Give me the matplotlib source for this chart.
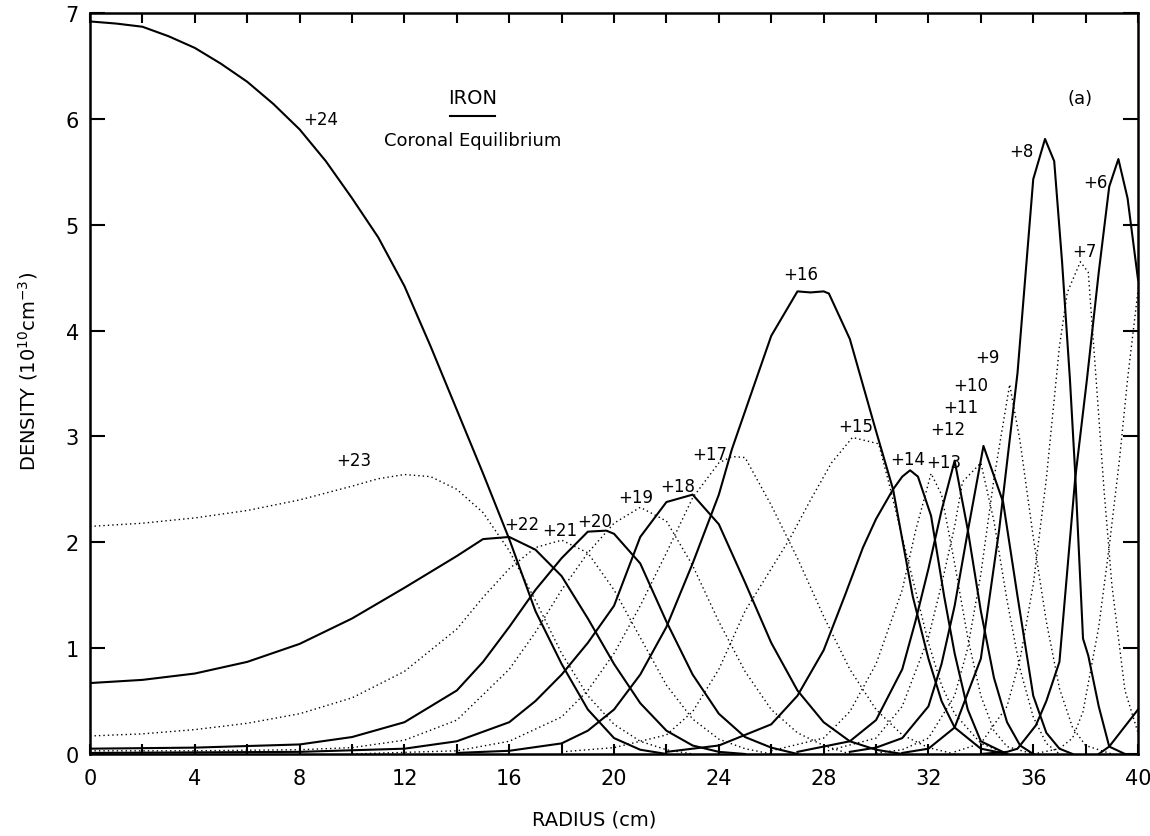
import matplotlib.pyplot as plt
from matplotlib.ticker import MultipleLocator

# density profiles of the iron charge states, radius in cm, density in 1e10 cm^-3
r24 = [0, 1, 2, 3, 4, 5, 6, 7, 8, 9, 10, 11, 12, 13, 14, 15, 16, 17, 18, 19, 20, 21, 22]
n24 = [6.92, 6.90, 6.87, 6.78, 6.67, 6.52, 6.35, 6.14, 5.90, 5.60, 5.25, 4.88, 4.42, 3.85,
       3.25, 2.65, 2.03, 1.35, 0.85, 0.42, 0.15, 0.04, 0.0]

r23 = [0, 2, 4, 6, 8, 10, 11, 12, 13, 14, 15, 16, 17, 18, 19, 20, 21, 22, 23]
n23 = [2.15, 2.18, 2.23, 2.30, 2.40, 2.53, 2.60, 2.64, 2.62, 2.50, 2.28, 1.92, 1.45, 0.95, 0.55, 0.28, 0.12, 0.04, 0.0]

r22 = [0, 2, 4, 6, 8, 10, 12, 13, 14, 15, 16, 17, 18, 19, 20, 21, 22, 23, 24, 25]
n22 = [0.67, 0.70, 0.76, 0.87, 1.04, 1.28, 1.57, 1.72, 1.87, 2.03, 2.05, 1.93, 1.68, 1.28, 0.85, 0.48, 0.22, 0.08, 0.02, 0.0]

r21 = [0, 2, 4, 6, 8, 10, 12, 14, 15, 16, 17, 18, 19, 20, 21, 22, 23, 24, 25, 26]
n21 = [0.17, 0.19, 0.23, 0.29, 0.38, 0.53, 0.78, 1.18, 1.48, 1.75, 1.95, 2.02, 1.90, 1.55, 1.10, 0.65, 0.33, 0.14, 0.05, 0.0]

r20 = [0, 4, 8, 10, 12, 14, 15, 16, 17, 18, 19, 19.7, 20, 21, 22, 23, 24, 25, 26, 27]
n20 = [0.05, 0.06, 0.09, 0.16, 0.30, 0.60, 0.87, 1.20, 1.55, 1.85, 2.10, 2.11, 2.08, 1.80, 1.25, 0.75, 0.38, 0.16, 0.06, 0.0]

r19 = [0, 4, 8, 10, 12, 14, 16, 17, 18, 19, 20, 21, 22, 23, 24, 25, 26, 27, 28, 29]
n19 = [0.03, 0.03, 0.04, 0.06, 0.13, 0.32, 0.80, 1.15, 1.55, 1.90, 2.18, 2.33, 2.20, 1.78, 1.25, 0.78, 0.42, 0.20, 0.08, 0.0]

r18 = [0, 8, 12, 14, 16, 17, 18, 19, 20, 21, 22, 23, 24, 25, 26, 27, 28, 29, 30, 31]
n18 = [0.01, 0.02, 0.05, 0.12, 0.30, 0.50, 0.75, 1.05, 1.40, 2.05, 2.38, 2.45, 2.17, 1.62, 1.05, 0.60, 0.30, 0.12, 0.04, 0.0]

r17 = [10, 14, 16, 18, 19, 20, 21, 22, 23, 24, 24.5, 25, 26, 27, 28, 29, 30, 31, 32, 33]
n17 = [0.0, 0.03, 0.12, 0.35, 0.60, 0.95, 1.40, 1.90, 2.42, 2.75, 2.81, 2.80, 2.35, 1.85, 1.30, 0.80, 0.42, 0.18, 0.06, 0.0]

r16 = [14, 16, 18, 19, 20, 21, 22, 23, 24, 24.5, 25.2, 26, 27, 27.5, 28, 28.2, 29, 30, 30.65, 31.4, 32, 32.5, 33, 34, 35]
n16 = [0.01, 0.03, 0.10, 0.22, 0.42, 0.75, 1.20, 1.80, 2.45, 2.88, 3.38, 3.95, 4.37, 4.36, 4.37, 4.35, 3.92, 3.05, 2.50, 1.49, 0.90, 0.50, 0.25, 0.05, 0.0]

r15 = [18, 20, 22, 23, 24, 25, 26, 26.7, 27.5, 28.3, 29.1, 30.1, 30.5, 31, 31.5, 32, 32.5, 33, 34, 35]
n15 = [0.02, 0.06, 0.18, 0.40, 0.80, 1.35, 1.75, 2.03, 2.40, 2.75, 2.99, 2.93, 2.55, 2.05, 1.55, 1.05, 0.65, 0.38, 0.10, 0.0]

r14 = [22, 24, 26, 27, 28, 28.8, 29.5, 30, 30.65, 31, 31.3, 31.6, 32.1, 32.6, 33, 33.5, 34, 35]
n14 = [0.02, 0.08, 0.28, 0.55, 0.98, 1.49, 1.95, 2.22, 2.50, 2.62, 2.68, 2.62, 2.25, 1.49, 0.95, 0.42, 0.12, 0.0]

r13 = [26, 28, 29, 30, 31, 31.5, 32.1, 32.5, 33, 33.5, 34, 34.5, 35, 36]
n13 = [0.03, 0.15, 0.40, 0.85, 1.55, 2.10, 2.65, 2.45, 1.80, 1.10, 0.55, 0.22, 0.07, 0.0]

r12 = [27, 29, 30, 31, 31.5, 32, 32.5, 33, 33.5, 34, 34.5, 35, 35.5, 36]
n12 = [0.02, 0.12, 0.32, 0.80, 1.25, 1.75, 2.30, 2.77, 2.12, 1.35, 0.72, 0.30, 0.08, 0.0]

r11 = [28, 30, 31, 32, 32.5, 33, 33.3, 34, 34.5, 35, 35.5, 36, 36.5, 37]
n11 = [0.02, 0.15, 0.45, 1.10, 1.60, 2.15, 2.57, 2.75, 2.20, 1.45, 0.80, 0.35, 0.10, 0.0]

r10 = [29, 30, 31, 32, 32.5, 33, 33.5, 34.1, 34.85, 35.4, 36, 36.5, 37, 37.5]
n10 = [0.02, 0.06, 0.15, 0.45, 0.85, 1.40, 2.10, 2.91, 2.38, 1.49, 0.55, 0.20, 0.05, 0.0]

r9 = [30, 31, 32, 33, 33.5, 34, 34.5, 35.1, 35.5, 36, 36.5, 37, 37.5, 38, 39]
n9 = [0.01, 0.04, 0.15, 0.55, 1.00, 1.70, 2.60, 3.49, 2.95, 2.05, 1.25, 0.62, 0.25, 0.08, 0.0]

r8 = [31, 32, 33, 34, 34.7, 35.4, 36.0, 36.45, 36.8, 37.1, 37.4, 37.6, 37.9, 38.1, 38.5, 38.9, 39.5]
n8 = [0.01, 0.05, 0.25, 0.90, 2.12, 3.60, 5.43, 5.81, 5.60, 4.65, 3.54, 2.66, 1.09, 0.93, 0.45, 0.07, 0.0]

r7 = [33, 34, 35, 35.5, 36, 36.5, 37.0, 37.3, 37.8, 38.1, 38.4, 38.7, 39, 39.5, 40]
n7 = [0.02, 0.10, 0.45, 0.90, 1.60, 2.60, 3.85, 4.36, 4.65, 4.55, 3.54, 2.50, 1.60, 0.60, 0.20]

r6 = [34, 35, 35.4, 36.1, 36.5, 37.0, 37.6, 38.05, 38.5, 38.9, 39.25, 39.6, 40]
n6 = [0.0, 0.02, 0.05, 0.27, 0.50, 0.87, 2.60, 3.54, 4.55, 5.36, 5.62, 5.25, 4.48]

r5 = [36, 37, 37.5, 37.9, 38.5, 38.9, 39.3, 39.6, 40]
n5 = [0.0, 0.05, 0.15, 0.40, 1.20, 1.96, 2.80, 3.54, 4.38]

r4 = [38.5, 38.9, 40]
n4 = [0.0, 0.07, 0.42]

# charge state label text and where the "+" sits
label_text = ['+24', '+23', '+22', '+21', '+20', '+19', '+18', '+17', '+16', '+15',
              '+14', '+13', '+12', '+11', '+10', '+9', '+8', '+7', '+6']
label_x = [8.15, 9.4, 15.8, 17.25, 18.6, 20.15, 21.75, 23.0, 26.45, 28.55,
           30.55, 31.9, 32.05, 32.55, 32.95, 33.8, 35.1, 37.5, 37.9]
label_y = [6.0, 2.78, 2.17, 2.12, 2.2, 2.43, 2.53, 2.83, 4.53, 3.1,
           2.79, 2.76, 3.07, 3.28, 3.49, 3.75, 5.7, 4.75, 5.4]

curves = [(24, r24, n24), (23, r23, n23), (22, r22, n22), (21, r21, n21),
          (20, r20, n20), (19, r19, n19), (18, r18, n18), (17, r17, n17),
          (16, r16, n16), (15, r15, n15), (14, r14, n14), (13, r13, n13),
          (12, r12, n12), (11, r11, n11), (10, r10, n10), (9, r9, n9),
          (8, r8, n8), (7, r7, n7), (6, r6, n6), (5, r5, n5), (4, r4, n4)]

plt.rcParams['font.family'] = 'DejaVu Sans'
fig = plt.figure(figsize=(11.5, 8.37), dpi=100)
ax = fig.add_axes([0.0783, 0.098, 0.9113, 0.8853])

# even charge states solid, odd ones dotted
for z, r, n in curves:
    if z % 2 == 0:
        ax.plot(r, n, color='black', lw=1.5)
    else:
        ax.plot(r, n, color='black', lw=1.0, linestyle=(0, (1, 2.2)))

for t, x, y in zip(label_text, label_x, label_y):
    ax.text(x, y, t, fontsize=12, ha='left', va='center')

ax.text(14.6, 6.2, 'IRON', fontsize=14, ha='center', va='center')
ax.plot([13.75, 15.45], [6.03, 6.03], color='black', lw=1.5)
ax.text(14.6, 5.8, 'Coronal Equilibrium', fontsize=13, ha='center', va='center')
ax.text(37.3, 6.2, '(a)', fontsize=13, ha='left', va='center')

ax.set_xlim(0, 40)
ax.set_ylim(0, 7)
ax.xaxis.set_major_locator(MultipleLocator(4))
ax.xaxis.set_minor_locator(MultipleLocator(2))
ax.yaxis.set_major_locator(MultipleLocator(1))
ax.tick_params(axis='x', which='both', direction='in', top=True, length=7, width=1.5,
               labelsize=15, pad=10)
ax.tick_params(axis='y', which='both', direction='in', right=True, length=11, width=1.5,
               labelsize=15, pad=8)
for s in ax.spines.values():
    s.set_linewidth(1.8)

ax.set_xlabel('RADIUS (cm)', fontsize=14)
ax.xaxis.set_label_coords(0.481, -0.075)
ax.set_ylabel(r'DENSITY (10$^{10}$cm$^{-3}$)', fontsize=14)
ax.yaxis.set_label_coords(-0.048, 0.517)

fig.savefig('out.png', dpi=100)
